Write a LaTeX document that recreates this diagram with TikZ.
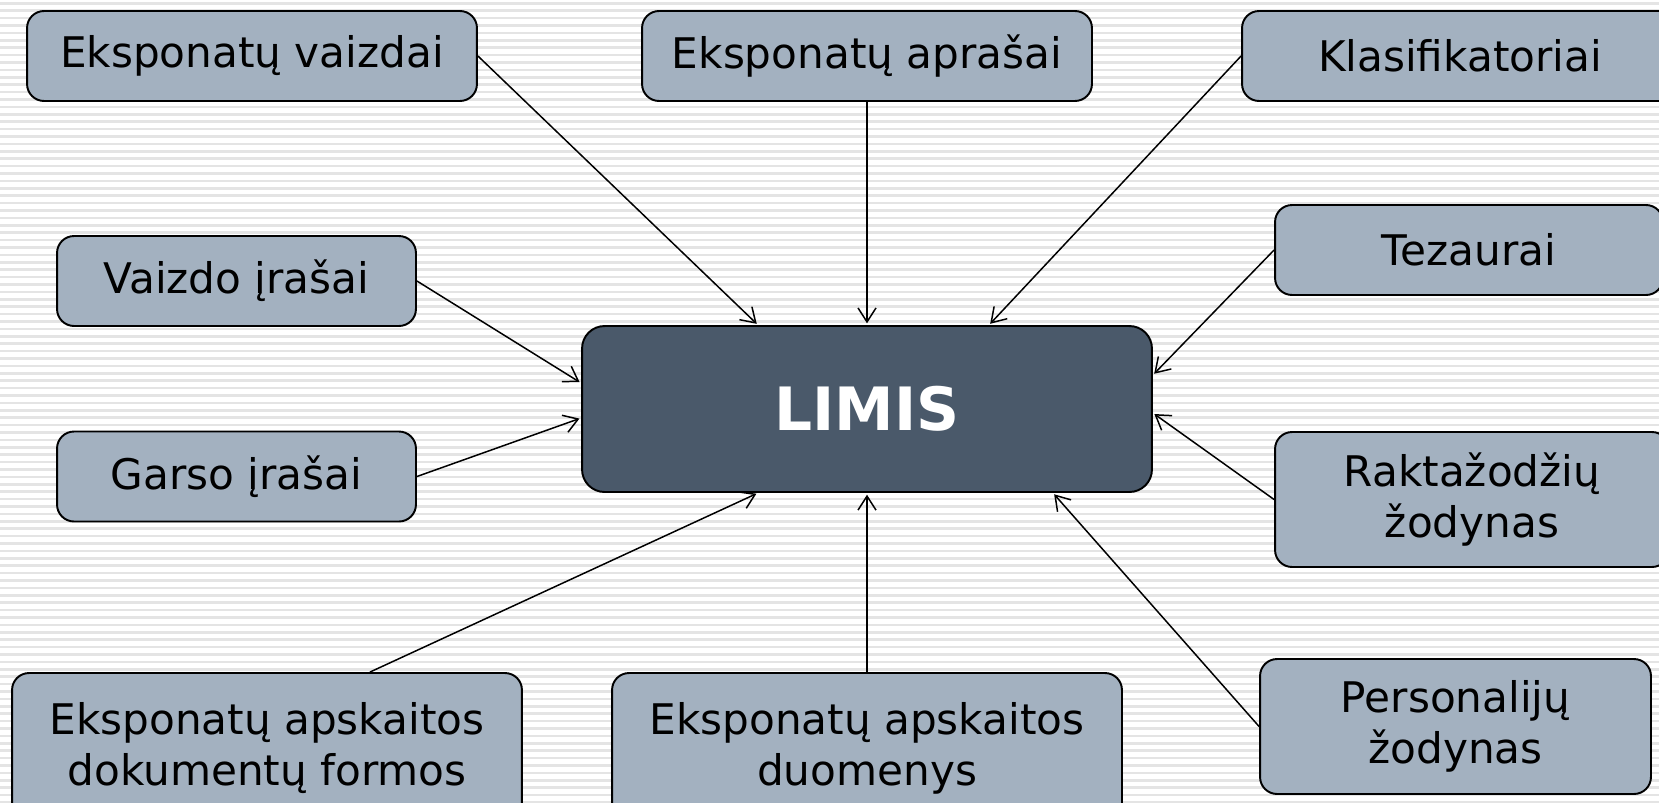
\documentclass[tikz,border=0pt]{standalone}
\usepackage{fontspec}
\setmainfont{DejaVu Sans}
\usetikzlibrary{arrows.meta}
\definecolor{boxgrey}{RGB}{163,177,192}
\definecolor{limisblue}{RGB}{74,89,106}
\definecolor{stripegrey}{RGB}{228,228,228}
\tikzset{
  src/.style={draw=black, line width=1.1pt, fill=boxgrey, rounded corners=0.34cm,
    minimum height=1.8cm, inner sep=0pt, align=center, font=\fontsize{24}{29}\selectfont},
  hub/.style={src, fill=limisblue, text=white, rounded corners=0.45cm,
    font=\fontsize{34}{40}\selectfont\bfseries},
  feed/.style={line width=0.85pt, -{Straight Barb[length=0.28cm,width=0.36cm]}, shorten >=1pt}
}
\begin{document}
\begin{tikzpicture}[x=0.02cm,y=-0.02cm]
\useasboundingbox (0,0) rectangle (1659,802);
\clip (0,0) rectangle (1659,802);
\foreach \s in {2,9.4,...,802} \fill[stripegrey] (0,\s) rectangle (1659,\s+2.6);
\node[hub,minimum width=11.4cm,minimum height=3.32cm] (limis) at (867,409) {LIMIS};
\node[src,minimum width=9cm] (vaizdai) at (252,56) {Eksponatų vaizdai};
\node[src,minimum width=9cm] (aprasai) at (867,56) {Eksponatų aprašai};
\node[src,minimum width=8.72cm] (klasif) at (1460,56) {Klasifikatoriai};
\node[src,minimum width=7.76cm] (tezaurai) at (1469,250) {Tezaurai};
\node[src,minimum width=7.18cm] (video) at (236.5,281) {Vaizdo įrašai};
\node[src,minimum width=7.18cm] (garsas) at (236.5,476.5) {Garso įrašai};
\node[src,minimum width=7.88cm,minimum height=2.7cm] (raktaz) at (1472,499.5) {Raktažodžių\\žodynas};
\node[src,minimum width=7.82cm,minimum height=2.7cm] (personal) at (1455.5,726.5) {Personalijų\\žodynas};
\node[src,minimum width=10.2cm,minimum height=3cm] (formos) at (267,748) {Eksponatų apskaitos\\dokumentų formos};
\node[src,minimum width=10.2cm,minimum height=3cm] (duomenys) at (867,748) {Eksponatų apskaitos\\duomenys};
\draw[feed] (vaizdai.east) -- ([xshift=-2.18cm]limis.north);
\draw[feed] (aprasai.south) -- (limis.north);
\draw[feed] (klasif.west) -- ([xshift=2.44cm]limis.north);
\draw[feed] (tezaurai.west) -- ([yshift=0.68cm]limis.east);
\draw[feed] (raktaz.west) -- ([yshift=-0.08cm]limis.east);
\draw[feed] (personal.west) -- ([xshift=3.72cm]limis.south);
\draw[feed] (duomenys.north) -- (limis.south);
\draw[feed] ([xshift=2.06cm]formos.north) -- ([xshift=-2.18cm]limis.south);
\draw[feed] (garsas.east) -- ([yshift=-0.18cm]limis.west);
\draw[feed] (video.east) -- ([yshift=0.52cm]limis.west);
\end{tikzpicture}
\end{document}
